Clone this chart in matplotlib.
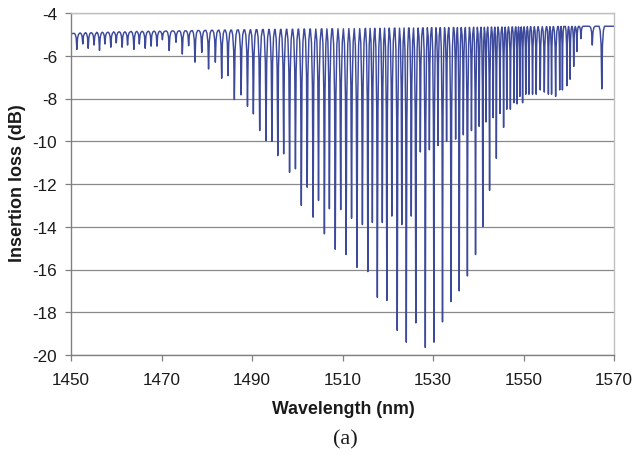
"""
Ring resonator comb: insertion loss vs wavelength, panel (a).
Dip centres / depths read off the figure; the trace is drawn as an
arch between resonances with a narrow notch at each one.
"""

import numpy as np
import matplotlib
matplotlib.use("Agg")
import matplotlib.pyplot as plt

# ---- data ----
# resonance centres (nm)
dip_nm = [
    1451.3, 1452.6, 1453.8, 1455.1, 1456.3, 1457.5, 1458.8, 1460.0, 1461.3, 1462.5,
    1463.9, 1465.1, 1466.4, 1467.7, 1469.0,
    1470.2, 1471.7, 1473.2, 1474.6, 1476.0, 1477.4, 1478.9, 1480.4, 1481.9, 1483.3,
    1484.7, 1486.1, 1487.6, 1489.0,
    1490.3, 1491.7, 1493.1, 1494.4, 1495.7, 1497.0, 1498.3, 1499.6, 1500.9, 1502.2,
    1503.5, 1504.7, 1506.0, 1507.1, 1508.4,
    1509.6, 1510.8, 1512.0, 1513.2, 1514.4, 1515.6, 1516.6, 1517.7, 1518.8, 1519.8,
    1520.9, 1522.1, 1523.1, 1524.1, 1525.2, 1526.2, 1527.2, 1528.3, 1529.2, 1530.2,
    1531.1, 1532.1, 1533.0, 1534.0, 1535.0, 1535.8, 1536.7, 1537.6, 1538.5, 1539.4,
    1540.2, 1541.0, 1541.7, 1542.5, 1543.3, 1544.0, 1544.8, 1545.6, 1546.3, 1547.1,
    1547.9, 1548.6, 1549.2, 1549.8, 1550.5, 1551.2, 1552.0, 1552.8, 1553.7, 1554.6,
    1555.5, 1556.2, 1557.1, 1558.0, 1558.6, 1559.6, 1560.3, 1561.1, 1561.8, 1562.7,
    1565.2, 1567.3,
]

# depth at each resonance (dB)
dip_db = [
    -5.70, -5.45, -5.65, -5.50, -5.75, -5.45, -5.60, -5.40, -5.60, -5.50,
    -5.70, -5.45, -5.65, -5.55, -5.55,
    -5.25, -5.76, -5.37, -5.92, -5.53, -6.30, -5.84, -6.62, -6.30, -7.05,
    -6.93, -8.05, -7.83, -8.36,
    -8.72, -9.50, -9.97, -10.01, -10.67, -10.59, -11.45, -11.29, -13.00, -12.15,
    -13.55, -12.77, -14.33, -13.16, -15.05,
    -13.2, -15.3, -13.6, -15.9, -13.9, -16.1, -13.8, -17.3, -13.8, -17.45,
    -13.5, -18.85, -13.9, -19.4, -13.5, -18.5, -10.5, -19.65, -10.4, -19.4,
    -10.2, -18.45, -10.0, -17.5, -9.9, -17.0, -9.7, -16.3, -9.5, -15.3,
    -9.3, -14.0, -9.1, -12.3, -8.9, -10.8, -8.7, -9.35, -8.5, -8.5,
    -8.2, -8.25, -7.9, -8.2, -7.8, -7.8, -7.8, -7.8, -7.6, -7.7,
    -7.8, -7.8, -7.9, -7.6, -7.6, -7.4, -7.1, -6.5, -5.8, -5.2,
    -5.5, -7.55,
]

# off-resonance level next to each dip (dB)
top_db = [
    -4.95, -4.93, -4.92, -4.92, -4.90, -4.90, -4.90, -4.88, -4.88, -4.88,
    -4.86, -4.86, -4.86, -4.85, -4.85,
    -4.85, -4.84, -4.84, -4.83, -4.83, -4.82, -4.82, -4.81, -4.81, -4.80,
    -4.80, -4.80, -4.79, -4.79,
    -4.78, -4.78, -4.77, -4.77, -4.77, -4.76, -4.76, -4.76, -4.75, -4.75,
    -4.75, -4.75, -4.74, -4.74, -4.74,
    -4.74, -4.74, -4.73, -4.73, -4.73, -4.72, -4.72, -4.72, -4.72, -4.71,
    -4.71, -4.71, -4.71, -4.70, -4.70, -4.70, -4.70, -4.70, -4.69, -4.69,
    -4.69, -4.69, -4.69, -4.68, -4.68, -4.68, -4.68, -4.68, -4.67, -4.67,
    -4.67, -4.67, -4.67, -4.66, -4.66, -4.66, -4.66, -4.66, -4.66, -4.65,
    -4.65, -4.65, -4.65, -4.65, -4.65, -4.64, -4.64, -4.64, -4.64, -4.64,
    -4.64, -4.64, -4.64, -4.63, -4.63, -4.63, -4.63, -4.63, -4.63, -4.62,
    -4.62, -4.62,
]

# trace end points
end_nm = [1450.0, 1570.0]
end_db = [-4.97, -4.62]

x_ticks = [1450, 1470, 1490, 1510, 1530, 1550, 1570]
y_ticks = [-20, -18, -16, -14, -12, -10, -8, -6, -4]

# ---- build the trace ----
c = np.array(dip_nm)
gaps = np.diff(c)
near = np.minimum(np.r_[gaps[0], gaps], np.r_[gaps, gaps[-1]])
hw = np.minimum(0.5 * near, 0.6)

# notch profile: (fraction of half width, fraction of depth)
prof = [(1.0, 0.0), (0.6, 0.07), (0.25, 0.3), (0.0, 1.0)]

xs = [end_nm[0]]
ys = [end_db[0]]
for ci, di, ti, h in zip(dip_nm, dip_db, top_db, hw):
    for f, g in prof:
        xs.append(ci - f * h)
        ys.append(ti + g * (di - ti))
    for f, g in prof[-2::-1]:
        xs.append(ci + f * h)
        ys.append(ti + g * (di - ti))
xs.append(end_nm[1])
ys.append(end_db[1])

# ---- plot ----
W, H = 637, 460
fig = plt.figure(figsize=(W / 100, H / 100), dpi=100)
ax = fig.add_axes([71 / W, 1 - 356 / H, (614 - 71) / W, (356 - 14) / H])

ax.plot(xs, ys, color="#3d4a9c", lw=1.05)

ax.set_xlim(1450, 1570)
ax.set_ylim(-20, -4)
ax.set_xticks(x_ticks)
ax.set_yticks(y_ticks)
ax.set_xticklabels([str(v) for v in x_ticks])
ax.set_yticklabels([str(v) for v in y_ticks])

ax.yaxis.grid(True, color="#8a8a8a", lw=0.9)
ax.set_axisbelow(True)
for side in ["left", "bottom"]:
    ax.spines[side].set_color("#808080")
    ax.spines[side].set_linewidth(1.0)
for side in ["right", "top"]:
    ax.spines[side].set_color("#c0c0c0")
    ax.spines[side].set_linewidth(1.0)

ax.tick_params(direction="out", length=4, width=0.9, color="#808080",
               labelsize=12.3, labelcolor="#1a1a1a")
ax.tick_params(axis="x", pad=8)
ax.tick_params(axis="y", pad=6)
for lab in ax.get_xticklabels() + ax.get_yticklabels():
    lab.set_family("Liberation Sans")

fig.text(343 / W, 1 - 410 / H, "Wavelength (nm)", ha="center", va="center",
         fontsize=12.8, fontweight="bold", family="Liberation Sans", color="#1a1a1a")
fig.text(18 / W, 1 - 183 / H, "Insertion loss (dB)", ha="center", va="center",
         rotation=90, fontsize=13, fontweight="bold", family="Liberation Sans",
         color="#1a1a1a")
fig.text(345 / W, 1 - 440 / H, "(a)", ha="center", va="center",
         fontsize=16, family="Liberation Serif", color="#1a1a1a")

plt.savefig("out.png", dpi=100)
plt.close()
